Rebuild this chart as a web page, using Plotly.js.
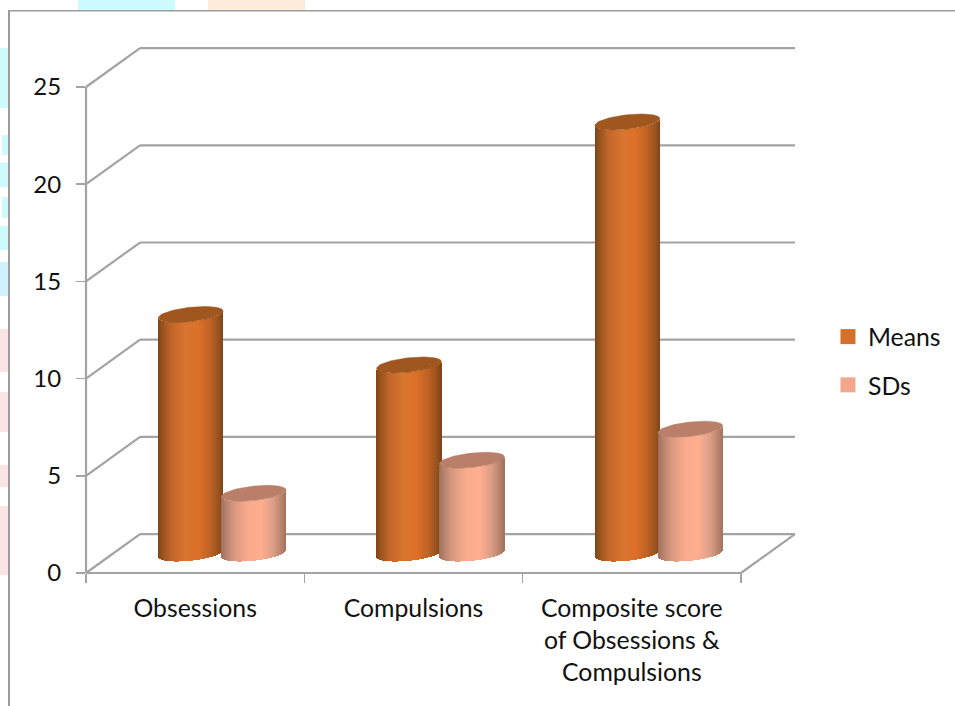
<!DOCTYPE html>
<html>
<head>
<meta charset="utf-8">
<script src="https://cdn.plot.ly/plotly-3.0.1.min.js"></script>
<style>html,body{margin:0;padding:0;background:#fff;overflow:hidden}#chart{width:955px;height:706px;overflow:hidden}</style>
</head>
<body>
<div id="chart"></div>
<script>
// Chart values
const categories = ['Obsessions', 'Compulsions', 'Composite score<br>of Obsessions &<br>Compulsions'];
const means = [12.3, 9.7, 22.2];
const sds = [3.1, 4.8, 6.4];
const yTicks = [0, 5, 10, 15, 20, 25];

// Page frame and plot placement, in pixels. The figure runs a little past the
// right edge of its container so the legend keeps its room without resizing the plot.
const W = 985, H = 706;
const plot = {l: 86, r: 795, t: 44, b: 573};
const pxPerX = 218.33, pxPerY = 19.44;
const fullX = (plot.r - plot.l) / pxPerX, fullY = (plot.b - plot.t) / pxPerY;

// Oblique projection of the 3-D floor: how far the back wall is shifted
const depthX = 54 / pxPerX, depthY = 2;

// Cylinder shape
const halfW = 32.5 / pxPerX, seriesShift = 31.5 / pxPerX;
const capB = 7.2 / pxPerY, capTilt = 3.4 / pxPerY;
const stripsPerBar = 65;

// Horizontal shading across each cylinder, with matching cap colours
const orangeStops = [[0, '#7f4316'], [0.06, '#96511d'], [0.2, '#c0652a'], [0.42, '#d8752f'], [0.62, '#dc7029'], [0.8, '#bf6225'], [0.93, '#99521f'], [1, '#7d4518']];
const peachStops = [[0, '#9f6f5c'], [0.06, '#b07f6a'], [0.2, '#d9987f'], [0.42, '#f9ab8d'], [0.62, '#ffae8e'], [0.8, '#dd9f87'], [0.93, '#b9826c'], [1, '#a27260']];
const orangeCap = '#a0561f', peachCap = '#b97f68';
const orangeKey = '#d2702c', peachKey = '#f2a78c';

function hexRgb(h) { return [1, 3, 5].map(i => parseInt(h.substr(i, 2), 16)); }
function shade(stops, t) {
  for (let i = 1; i < stops.length; i++) {
    if (t <= stops[i][0]) {
      const a = stops[i - 1], b = stops[i], f = (t - a[0]) / (b[0] - a[0]);
      const ca = hexRgb(a[1]), cb = hexRgb(b[1]);
      return 'rgb(' + ca.map((c, k) => Math.round(c + (cb[k] - c) * f)).join(',') + ')';
    }
  }
  return stops[stops.length - 1][1];
}

// Body of the cylinders: narrow bars whose ends follow the front of each ellipse
function bodyTrace(values, shift, stops) {
  const x = [], base = [], y = [], color = [];
  const floorY = depthY / 2;
  values.forEach((v, i) => {
    const cx = i + 0.5 + depthX / 2 + shift;
    for (let s = 0; s < stripsPerBar; s++) {
      const t = (s + 0.5) / stripsPerBar, u = 2 * t - 1;
      const front = capB * Math.sqrt(1 - u * u), lean = capTilt * u;
      const bottom = floorY - front + lean, top = floorY + v - front + lean;
      x.push(cx + u * halfW);
      base.push(bottom);
      y.push(top - bottom);
      color.push(shade(stops, t));
    }
  });
  return {type: 'bar', x, y, base, width: 2 * halfW / stripsPerBar * 1.02,
    marker: {color, line: {width: 0}}, showlegend: false, hoverinfo: 'skip'};
}

// Top face of the cylinders: tilted ellipses
function capTraces(values, shift, color) {
  return values.map((v, i) => {
    const cx = i + 0.5 + depthX / 2 + shift, cy = depthY / 2 + v;
    const x = [], y = [];
    for (let d = 0; d <= 360; d += 5) {
      const a = d * Math.PI / 180;
      x.push(cx + halfW * Math.cos(a));
      y.push(cy + capB * Math.sin(a) + capTilt * Math.cos(a));
    }
    return {type: 'scatter', mode: 'lines', x, y, fill: 'toself', fillcolor: color,
      line: {width: 0.5, color}, showlegend: false, hoverinfo: 'skip'};
  });
}

// Legend keys
function keyTrace(name, color) {
  return {type: 'scatter', mode: 'markers', x: [null], y: [null], name, legendgroup: name,
    marker: {symbol: 'square', size: 15, color}, hoverinfo: 'skip'};
}

const traces = [
  bodyTrace(means, -seriesShift, orangeStops),
  bodyTrace(sds, seriesShift, peachStops),
  ...capTraces(means, -seriesShift, orangeCap),
  ...capTraces(sds, seriesShift, peachCap),
  keyTrace('Means', orangeKey),
  keyTrace('SDs', peachKey),
  // Carries the boundary tick marks of the category axis
  {type: 'scatter', mode: 'lines', x: [0, 3], y: [0, 0], xaxis: 'x2', line: {width: 0}, showlegend: false, hoverinfo: 'skip'}
];

// Pixel rectangles converted to the paper coordinates of the plot area
const pw = plot.r - plot.l, ph = plot.b - plot.t;
function pxRect(x0, y0, x1, y1, fill) {
  return {type: 'rect', xref: 'paper', yref: 'paper', layer: 'below', fillcolor: fill,
    line: {width: 0},
    x0: (x0 - plot.l) / pw, x1: (x1 - plot.l) / pw,
    y0: (plot.b - y0) / ph, y1: (plot.b - y1) / ph};
}

// Walls and floor, placed in axis units but not clipped to the plot area
const gridColor = '#a3a3a3';
function wallLine(x0, y0, x1, y1) {
  return {type: 'line', xref: 'paper', yref: 'paper', layer: 'below',
    line: {color: gridColor, width: 2.2},
    x0: x0 / fullX, x1: x1 / fullX, y0: y0 / fullY, y1: y1 / fullY};
}
const wallLines = [];
yTicks.forEach(v => {
  wallLines.push(wallLine(0, v, depthX, v + depthY));
  wallLines.push(wallLine(depthX, v + depthY, 3 + depthX, v + depthY));
});
wallLines.push(wallLine(0, 0, 0, yTicks[yTicks.length - 1]));
wallLines.push(wallLine(0, 0, 3, 0));
wallLines.push(wallLine(3, 0, 3 + depthX, depthY));

// Pale decoration around the frame, then the frame itself
const cyan = '#ccfafd', blue = '#cff1fc', pink = '#fde4e4', sand = '#fdebdc', frame = '#9c9c9c';
const shapes = [
  pxRect(78, 0, 175, 10, cyan), pxRect(208, 0, 305, 10, sand),
  pxRect(0, 48, 8, 108, cyan), pxRect(2, 135, 8, 155, cyan), pxRect(0, 163, 8, 187, cyan),
  pxRect(2, 197, 8, 218, cyan), pxRect(0, 226, 8, 250, cyan), pxRect(0, 262, 8, 296, blue),
  pxRect(0, 329, 8, 372, pink), pxRect(0, 392, 8, 432, pink), pxRect(0, 465, 8, 487, pink),
  pxRect(0, 506, 8, 575, pink),
  pxRect(8, 10, 10, H, frame), pxRect(8, 10, W, 11.5, frame),
  ...wallLines
];

const font = {family: 'Lato, Carlito, sans-serif', size: 24.8, color: '#111'};
const numFont = {family: 'Lato, Carlito, sans-serif', size: 24, color: '#111'};
const layout = {
  width: W, height: H, autosize: false,
  margin: {l: plot.l, r: W - plot.r, t: plot.t, b: H - plot.b, pad: 0},
  paper_bgcolor: '#fff', plot_bgcolor: 'rgba(0,0,0,0)', font,
  bargap: 0, barmode: 'overlay',
  xaxis: {range: [0, fullX], tickmode: 'array', tickvals: [0.5, 1.5, 2.5], ticktext: categories,
    ticks: '', showgrid: false, zeroline: false, showline: false, tickfont: font, ticklabelstandoff: 18, tickangle: 0},
  xaxis2: {range: [0, fullX], overlaying: 'x', anchor: 'y', side: 'bottom', tickmode: 'array', tickvals: [0, 1, 2, 3],
    ticktext: ['', '', '', ''], ticks: 'outside', ticklen: 9, tickwidth: 1.5, tickcolor: gridColor, showgrid: false, zeroline: false, showline: false},
  yaxis: {range: [0, fullY], tickmode: 'array', tickvals: yTicks, ticks: 'outside', ticklen: 9, tickwidth: 1.5, tickcolor: gridColor,
    showgrid: false, zeroline: false, showline: false, tickfont: numFont, ticklabelstandoff: 10},
  legend: {x: 1.0465, xanchor: 'left', y: (plot.b - 361) / ph, yanchor: 'middle', font, traceorder: 'grouped',
    tracegroupgap: 13, bgcolor: 'rgba(0,0,0,0)', itemclick: false},
  shapes,
  hovermode: false
};
Plotly.newPlot('chart', traces, layout, {displayModeBar: false, staticPlot: true});
</script>
</body>
</html>
